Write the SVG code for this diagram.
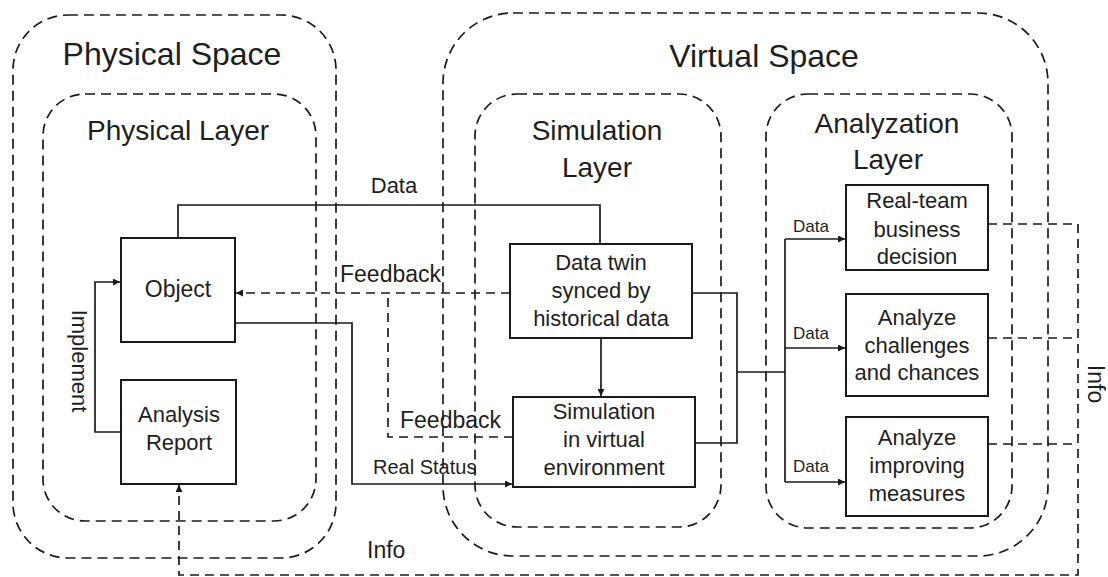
<svg xmlns="http://www.w3.org/2000/svg" width="1108" height="577" viewBox="0 0 1108 577">
<style>
  text { font-family: "Liberation Sans", Arial, sans-serif; fill: #1e1e1e; }
  .title { font-size: 32px; text-anchor: middle; }
  .layer { font-size: 28px; text-anchor: middle; }
  .node { font-size: 22px; text-anchor: middle; }
  .lbl { font-size: 22px; }
  .sm { font-size: 17px; }
  .cont { fill: none; stroke: #1a1a1a; stroke-width: 1.7; stroke-dasharray: 10 6; }
  .box { fill: #fff; stroke: #1a1a1a; stroke-width: 2; }
  .solid { fill: none; stroke: #1a1a1a; stroke-width: 1.7; }
  .dash { fill: none; stroke: #1a1a1a; stroke-width: 1.7; stroke-dasharray: 9 6; }
</style>
<defs>
  <marker id="arr" viewBox="0 0 10 10" refX="10" refY="5" markerWidth="8" markerHeight="7" markerUnits="userSpaceOnUse" orient="auto">
    <path d="M0,0 L10,5 L0,10 z" fill="#1a1a1a"/>
  </marker>
</defs>
<rect width="1108" height="577" fill="#fff"/>

<g id="physical-space">
  <rect class="cont" x="13" y="15" width="323" height="543" rx="55"/>
  <text class="title" x="172" y="65">Physical Space</text>
</g>
<g id="physical-layer">
  <rect class="cont" x="43" y="94" width="273" height="427" rx="42"/>
  <text class="layer" x="178" y="140">Physical Layer</text>
</g>
<g id="virtual-space">
  <rect class="cont" x="443" y="13" width="605" height="543" rx="70"/>
  <text class="title" x="764" y="67">Virtual Space</text>
</g>
<g id="simulation-layer">
  <rect class="cont" x="475" y="94" width="246" height="433" rx="42"/>
  <text class="layer" x="597" y="140">Simulation</text>
  <text class="layer" x="597" y="177">Layer</text>
</g>
<g id="analyzation-layer">
  <rect class="cont" x="766" y="94" width="246" height="434" rx="42"/>
  <text class="layer" x="887" y="133">Analyzation</text>
  <text class="layer" x="888" y="169">Layer</text>
</g>

<g id="connectors">
  <path class="solid" d="M121,432 H95 V282 H120" marker-end="url(#arr)"/>
  <path class="solid" d="M178,238 V205 H600 V244"/>
  <path class="dash" d="M510,293 H236" marker-end="url(#arr)"/>
  <path class="dash" d="M513,437 H388 V293"/>
  <path class="solid" d="M235,323 H352 V484 H512" marker-end="url(#arr)"/>
  <path class="solid" d="M601,338 V396" marker-end="url(#arr)"/>
  <path class="solid" d="M692,293 H737 V443 H695"/>
  <path class="solid" d="M737,372 H785"/>
  <path class="solid" d="M785,239 V482"/>
  <path class="solid" d="M785,239 H845" marker-end="url(#arr)"/>
  <path class="solid" d="M785,348 H845" marker-end="url(#arr)"/>
  <path class="solid" d="M785,482 H845" marker-end="url(#arr)"/>
  <path class="dash" d="M988,224 H1078"/>
  <path class="dash" d="M988,338 H1078"/>
  <path class="dash" d="M988,444 H1078"/>
  <path class="dash" d="M1078,224 V575 H179 V485" marker-end="url(#arr)"/>
  <text class="lbl" x="394" y="193" text-anchor="middle">Data</text>
  <text class="lbl" x="340" y="282" style="font-size:23px">Feedback</text>
  <text class="lbl" x="400" y="428" style="font-size:23px">Feedback</text>
  <text class="lbl" x="373" y="474" style="font-size:20px">Real Status</text>
  <text class="lbl" transform="translate(72,361) rotate(90)" text-anchor="middle">Implement</text>
  <text class="sm" x="793" y="232">Data</text>
  <text class="sm" x="793" y="339">Data</text>
  <text class="sm" x="793" y="472">Data</text>
  <text class="lbl" transform="translate(1088,384) rotate(90)" text-anchor="middle" style="font-size:23px">Info</text>
  <text class="lbl" x="367" y="558" style="font-size:23px">Info</text>
</g>

<g id="object">
  <rect class="box" x="121" y="238" width="114" height="104"/>
  <text class="node" x="178" y="297" style="font-size:23px">Object</text>
</g>
<g id="analysis-report">
  <rect class="box" x="121" y="380" width="115" height="104"/>
  <text class="node" x="179" y="422">Analysis</text>
  <text class="node" x="179" y="450">Report</text>
</g>
<g id="data-twin">
  <rect class="box" x="510" y="244" width="182" height="94"/>
  <text class="node" x="601" y="270">Data twin</text>
  <text class="node" x="601" y="298">synced by</text>
  <text class="node" x="601" y="326">historical data</text>
</g>
<g id="simulation">
  <rect class="box" x="513" y="397" width="182" height="90"/>
  <text class="node" x="604" y="419">Simulation</text>
  <text class="node" x="604" y="447">in virtual</text>
  <text class="node" x="604" y="475">environment</text>
</g>
<g id="real-team">
  <rect class="box" x="846" y="185" width="142" height="85"/>
  <text class="node" x="917" y="208">Real-team</text>
  <text class="node" x="917" y="237">business</text>
  <text class="node" x="917" y="264">decision</text>
</g>
<g id="analyze-challenges">
  <rect class="box" x="846" y="294" width="142" height="102"/>
  <text class="node" x="917" y="325">Analyze</text>
  <text class="node" x="917" y="353">challenges</text>
  <text class="node" x="917" y="380">and chances</text>
</g>
<g id="analyze-improving">
  <rect class="box" x="846" y="417" width="142" height="99"/>
  <text class="node" x="917" y="445">Analyze</text>
  <text class="node" x="917" y="473">improving</text>
  <text class="node" x="917" y="501">measures</text>
</g>
</svg>
